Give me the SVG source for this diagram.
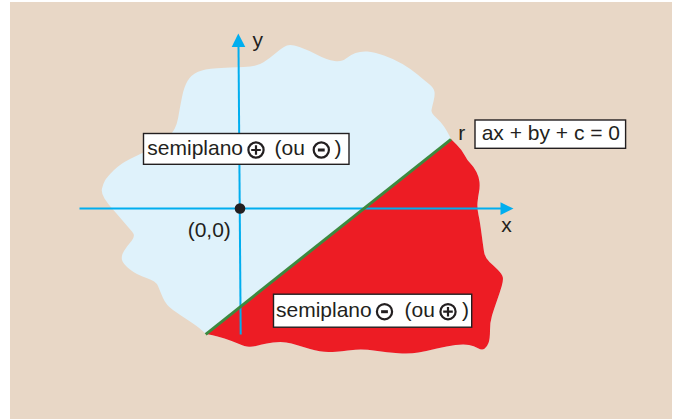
<svg xmlns="http://www.w3.org/2000/svg" width="677" height="419" viewBox="0 0 677 419">
<style>
.t{font-family:"Liberation Sans",Arial,sans-serif;font-size:21px;fill:#231f20}
.box{fill:#ffffff;stroke:#231f20;stroke-width:1.4}
.sym{fill:none;stroke:#231f20;stroke-width:2.2}
.axis{stroke:#00aeef;stroke-width:2;fill:none}
.head{fill:#00aeef}
</style>
<defs>
<path id="blob" d="M 206 334 L 201.5 330 Q 197 326 188.5 320.5 Q 180 315 173 310 Q 166 305 163 298 Q 160 291 158 286 Q 156 281 146.5 278 Q 137 275 130 269.5 Q 123 264 122 260 Q 121 256 124 251 Q 127 246 131.5 241 Q 136 236 132 231.5 Q 128 227 122.5 220.5 Q 117 214 112.5 209 Q 108 204 104.5 198.5 Q 101 193 102 188.5 Q 103 184 105 180.5 Q 107 177 113.5 170.5 Q 120 164 130 159 Q 140 154 150 149.5 Q 160 145 168 137.5 Q 176 130 178 118.5 Q 180 107 182 97 Q 184 87 187.5 81 Q 191 75 197.5 72 Q 204 69 217 68.25 Q 230 67.5 243.5 67.1 Q 257 66.7 263.5 62.35 Q 270 58 276.5 52.5 Q 283 47 287 45.5 Q 291 44 299.5 47 Q 308 50 317.5 55 Q 327 60 334.5 61 Q 342 62 346 58.5 Q 350 55 355.5 53 Q 361 51 367.5 51.5 Q 374 52 384 55.5 Q 394 59 402.5 64 Q 411 69 417.5 74.5 Q 424 80 429 84 Q 434 88 434.5 92 Q 435 96 433.5 101.5 Q 432 107 431.5 110 Q 431 113 436 117.5 Q 441 122 444 126.5 Q 447 131 449 135 L 451 139 L 456.5 144.5 Q 462 150 464.5 155 Q 467 160 470.5 163.5 Q 474 167 476.5 172 Q 479 177 479.5 182 Q 480 187 479 192 Q 478 197 477.5 202.5 Q 477 208 478.5 215 Q 480 222 481.5 233.5 Q 483 245 484 251.5 Q 485 258 489.5 262 Q 494 266 498 270 Q 502 274 502.75 277 Q 503.5 280 501.75 286 Q 500 292 497 300.5 Q 494 309 492 315.5 Q 490 322 490 330.5 Q 490 339 488.5 343 Q 487 347 484.5 348.75 Q 482 350.5 478 348.25 Q 474 346 469 345 Q 464 344 455.5 345 Q 447 346 437 348.5 Q 427 351 418.5 352.5 Q 410 354 398.5 353.25 Q 387 352.5 375.5 350.75 Q 364 349 355.5 349.75 Q 347 350.5 342 351.25 Q 337 352 328.5 352 Q 320 352 310 349 Q 300 346 291.5 343.5 Q 283 341 273 342.5 Q 263 344 258 345.5 Q 253 347 249 346.75 Q 245 346.5 238.5 343.75 Q 232 341 224.5 338.5 Q 217 336 211.5 335 L 206 334 Z"/>
<clipPath id="lower">
<polygon points="100,418.3 600,20.8 677,20.8 677,419 100,419"/>
</clipPath>
</defs>

<rect x="10" y="2" width="662" height="417" fill="#e8d7c6"/>

<g id="semiplano-regions">
<use href="#blob" fill="#dff2fb"/>
<use href="#blob" fill="#ed1c24" clip-path="url(#lower)"/>
</g>

<g id="connectors">
<line class="axis" x1="238.5" y1="45" x2="240.7" y2="334.5"/>
<polygon class="head" points="238.3,33.5 231.7,47 245.3,47"/>
<line class="axis" x1="79.5" y1="208.5" x2="502" y2="208.5"/>
<polygon class="head" points="513.5,208.6 500.5,202.2 500.5,215"/>
<line id="reta-r" x1="205.7" y1="334.3" x2="451" y2="139.3" stroke="#3c8a3f" stroke-width="3"/>
</g>

<g id="origin">
<circle cx="240" cy="208.5" r="5.3" fill="#231f20"/>
<text class="t" x="187.7" y="237.3">(0,0)</text>
</g>

<g id="label-y"><text class="t" x="252.5" y="47">y</text></g>
<g id="label-x"><text class="t" x="501.3" y="231.7">x</text></g>

<g id="label-upper">
<rect class="box" x="143.5" y="133.5" width="205.5" height="30.8"/>
<text class="t" x="147.3" y="155.3">semiplano</text>
<circle class="sym" cx="256" cy="150" r="7.6"/>
<path class="sym" d="M251.2 150 H260.8 M256 145.2 V154.8"/>
<text class="t" x="274.5" y="155.3">(ou</text>
<circle class="sym" cx="321.3" cy="150" r="7.6"/>
<path d="M317.9 150 H324.7" stroke="#231f20" stroke-width="3"/>
<text class="t" x="341.5" y="155.3" text-anchor="end">)</text>
</g>

<g id="label-lower">
<rect class="box" x="273.5" y="294.2" width="198.2" height="33"/>
<text class="t" x="276" y="316.7">semiplano</text>
<circle class="sym" cx="384.5" cy="311.7" r="7.6"/>
<path d="M381.1 311.7 H387.9" stroke="#231f20" stroke-width="3"/>
<text class="t" x="404.5" y="316.7">(ou</text>
<circle class="sym" cx="448" cy="311.7" r="7.6"/>
<path class="sym" d="M443.2 311.7 H452.8 M448 306.9 V316.5"/>
<text class="t" x="469" y="316.7" text-anchor="end">)</text>
</g>

<g id="label-r">
<text class="t" x="458.3" y="140">r</text>
<rect class="box" x="475" y="120" width="150.6" height="28.3"/>
<text class="t" x="481.7" y="140">ax + by + c = 0</text>
</g>
</svg>
